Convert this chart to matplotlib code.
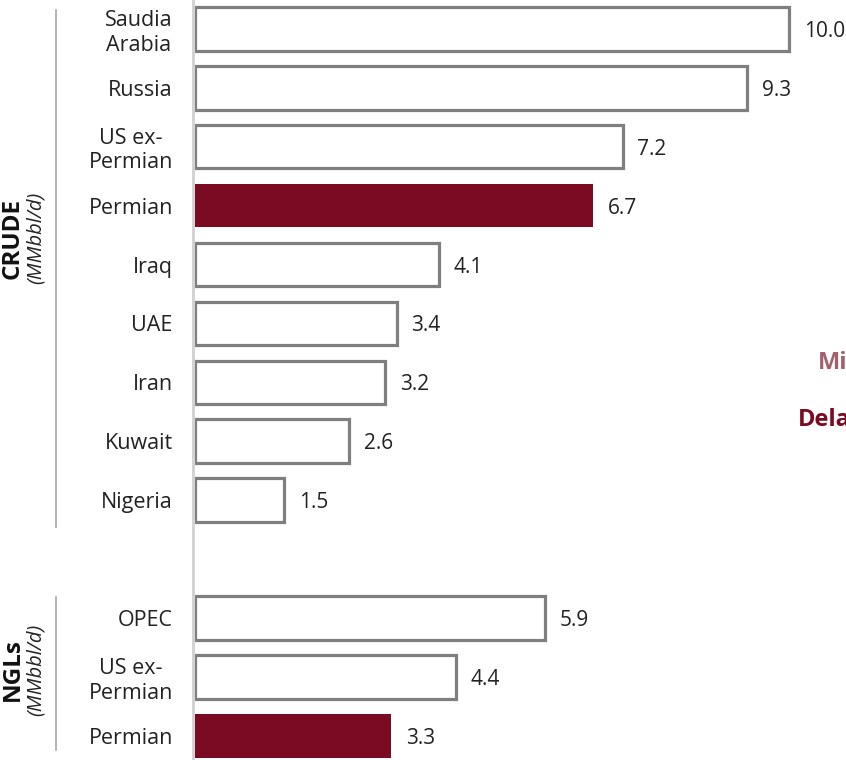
import matplotlib.pyplot as plt
import matplotlib.transforms as mtransforms

plt.rcParams['font.family'] = ['Open Sans', 'DejaVu Sans']

crude_labels = ["Saudia\nArabia", "Russia", "US ex-\nPermian", "Permian", "Iraq",
                "UAE", "Iran", "Kuwait", "Nigeria"]
crude_values = [10.0, 9.3, 7.2, 6.7, 4.1, 3.4, 3.2, 2.6, 1.5]
ngl_labels = ["OPEC", "US ex-\nPermian", "Permian"]
ngl_values = [5.9, 4.4, 3.3]

RED = "#7a0b23"
EDGE = "#7f7f7f"

fig = plt.figure(figsize=(8.46, 7.6), dpi=100)
ax = fig.add_axes([195 / 846, 0, 1 - 195 / 846, 1])

crude_pos = list(range(len(crude_values)))
ngl_pos = [len(crude_values) + 1 + i for i in range(len(ngl_values))]
labels = crude_labels + ngl_labels
values = crude_values + ngl_values
pos = crude_pos + ngl_pos

for y, v, lab in zip(pos, values, labels):
    if lab == "Permian":
        ax.barh(y, v, height=0.74, color=RED, edgecolor=RED, linewidth=0)
    else:
        ax.barh(y, v, height=0.74, color="white", edgecolor=EDGE, linewidth=2.3)
    ax.annotate(f"{v:.1f}", (v, y), xytext=(10.5, 0), textcoords="offset points",
                ha="left", va="center_baseline", fontsize=15, color="#222222")

ax.set_xlim(0, (846 - 195) / 59.4)
ax.set_ylim(12.41, -0.49)
ax.axvline(-0.04, color="#d0d0d0", linewidth=2, clip_on=False)

ax.set_yticks(pos)
ax.set_yticklabels(labels, fontsize=15.5, color="#222222", multialignment="center",
                   linespacing=1.2)
ax.tick_params(axis="y", length=0, pad=16)
ax.set_xticks([])
for s in ax.spines.values():
    s.set_visible(False)

# group brackets and titles on the left
tr = mtransforms.blended_transform_factory(fig.transFigure, ax.transData)
ax.plot([56 / 846] * 2, [-0.32, 8.45], color="#a6a6a6", linewidth=1.2,
        transform=tr, clip_on=False)
ax.plot([56 / 846] * 2, [9.64, 12.24], color="#a6a6a6", linewidth=1.2,
        transform=tr, clip_on=False)

ax.text(0.5 / 846, 3.55, "CRUDE", rotation=90, ha="left", va="center",
        fontsize=17.5, fontweight="bold", color="#111111", transform=tr)
ax.text(36 / 846, 3.55, "(MMbbl/d)", rotation=90, ha="center", va="center",
        fontsize=14.5, fontstyle="italic", color="#222222", transform=tr)
ax.text(0.5 / 846, 10.88, "NGLs", rotation=90, ha="left", va="center",
        fontsize=17.5, fontweight="bold", color="#111111", transform=tr)
ax.text(36 / 846, 10.88, "(MMbbl/d)", rotation=90, ha="center", va="center",
        fontsize=14.5, fontstyle="italic", color="#222222", transform=tr)

# basin legend entries
fig.text(818 / 846, 1 - 363 / 760, "Midland", ha="left", va="center",
         fontsize=17, fontweight="bold", color="#a35f6c")
fig.text(798 / 846, 1 - 420 / 760, "Delaware", ha="left", va="center",
         fontsize=17, fontweight="bold", color=RED)

fig.savefig("out.png", dpi=100)
